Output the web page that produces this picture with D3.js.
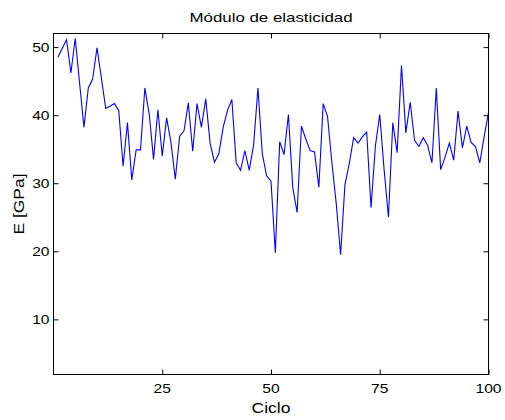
<!DOCTYPE html>
<html>
<head>
<meta charset="utf-8">
<script src="https://cdnjs.cloudflare.com/ajax/libs/d3/7.8.5/d3.min.js"></script>
<style>
	body { margin: 0; background: #fff; }
	svg { display: block; }
	text { font-family: "Liberation Sans", Arial, sans-serif; fill: #000; }
</style>
</head>
<body>
<svg id="chart" width="505" height="420"></svg>
<script>
var titleText = "Módulo de elasticidad",
	xLabel = "Ciclo",
	yLabel = "E [GPa]",
	xTicks = [25, 50, 75, 100],
	yTicks = [10, 20, 30, 40, 50],
	xDomain = [0, 100],
	yDomain = [1.9, 52];

// E per cycle
var modulus = [
	48.5, 49.8, 51.1, 46.2, 51.3, 44.7, 38.2, 44.0, 45.3, 49.9,
	45.5, 41.0, 41.3, 41.7, 40.7, 32.5, 38.9, 30.5, 34.9, 34.9,
	44.0, 40.2, 33.5, 40.8, 34.0, 39.6, 36.0, 30.6, 36.9, 37.7,
	41.8, 34.7, 41.7, 38.2, 42.4, 35.9, 33.1, 34.3, 38.2, 40.7,
	42.3, 33.0, 31.9, 34.8, 31.9, 35.6, 44.0, 34.3, 31.1, 30.3,
	19.8, 36.1, 34.2, 40.1, 29.4, 25.7, 38.4, 36.5, 34.8, 34.6,
	29.4, 41.7, 39.8, 33.0, 27.0, 19.5, 29.8, 32.9, 36.7, 35.9,
	36.8, 37.5, 26.4, 35.5, 40.1, 32.0, 25.0, 38.9, 34.5, 47.3,
	37.4, 41.9, 36.3, 35.4, 36.7, 35.6, 33.0, 44.0, 32.0, 33.8,
	35.9, 33.4, 40.6, 35.2, 38.4, 36.0, 35.4, 33.0, 36.8, 40.4
];
var cycles = d3.range(1, modulus.length + 1);

var ElasticityChart = (function() {
	"use strict";

	var margin = { top: 33.5, right: 16.5, bottom: 45.5, left: 53.5 },
		tickLen = 5,
		stretch = 1.25,
		width,
		height,
		xScale,
		yScale,
		g;

	function create(svg) {
		width = +svg.attr("width") - margin.left - margin.right;
		height = +svg.attr("height") - margin.top - margin.bottom;

		xScale = d3.scaleLinear().domain(xDomain).range([0, width]);
		yScale = d3.scaleLinear().domain(yDomain).range([height, 0]);

		g = svg.append("g")
			.attr("transform", "translate(" + margin.left + "," + margin.top + ")");

		// data line
		var line = d3.line()
			.x(function(d, i) { return xScale(cycles[i]); })
			.y(function(d) { return yScale(d); });

		g.append("path")
			.datum(modulus)
			.attr("d", line)
			.attr("fill", "none")
			.attr("stroke", "#0000ff")
			.attr("stroke-width", 1.1)
			.attr("stroke-linejoin", "miter");

		// axes, ticks pointing inwards on all four sides
		g.append("g")
			.call(d3.axisBottom(xScale).tickValues(xTicks).tickSize(-tickLen).tickFormat(""))
			.attr("transform", "translate(0," + height + ")")
			.call(clean);
		g.append("g")
			.call(d3.axisTop(xScale).tickValues(xTicks).tickSize(-tickLen).tickFormat(""))
			.call(clean);
		g.append("g")
			.call(d3.axisLeft(yScale).tickValues(yTicks).tickSize(-tickLen).tickFormat(""))
			.call(clean);
		g.append("g")
			.attr("transform", "translate(" + width + ",0)")
			.call(d3.axisRight(yScale).tickValues(yTicks).tickSize(-tickLen).tickFormat(""))
			.call(clean);

		// box
		g.append("rect")
			.attr("width", width)
			.attr("height", height)
			.attr("fill", "none")
			.attr("stroke", "#000")
			.attr("stroke-width", 1);

		// tick labels
		xTicks.forEach(function(v) {
			label(xScale(v), height + 18, String(v), 12.5, "middle", 0);
		});
		yTicks.forEach(function(v) {
			label(-4, yScale(v) + 4.5, String(v), 12.5, "end", 0);
		});

		label(width / 2, -11.8, titleText, 13.5, "middle", 0);
		label(width / 2, height + 38, xLabel, 14, "middle", 0);
		label(-29.5, height / 2, yLabel, 14, "middle", -90);
	}

	function clean(sel) {
		sel.select(".domain").remove();
		sel.selectAll(".tick line").attr("stroke", "#000");
	}

	function label(x, y, txt, size, anchor, rot) {
		g.append("text")
			.attr("transform", "translate(" + x + "," + y + ") rotate(" + rot + ") scale(" + stretch + ",1)")
			.attr("text-anchor", anchor)
			.style("font-size", size + "px")
			.text(txt);
	}

	return {
		create: create
	};
})();

ElasticityChart.create(d3.select("#chart"));
</script>
</body>
</html>
